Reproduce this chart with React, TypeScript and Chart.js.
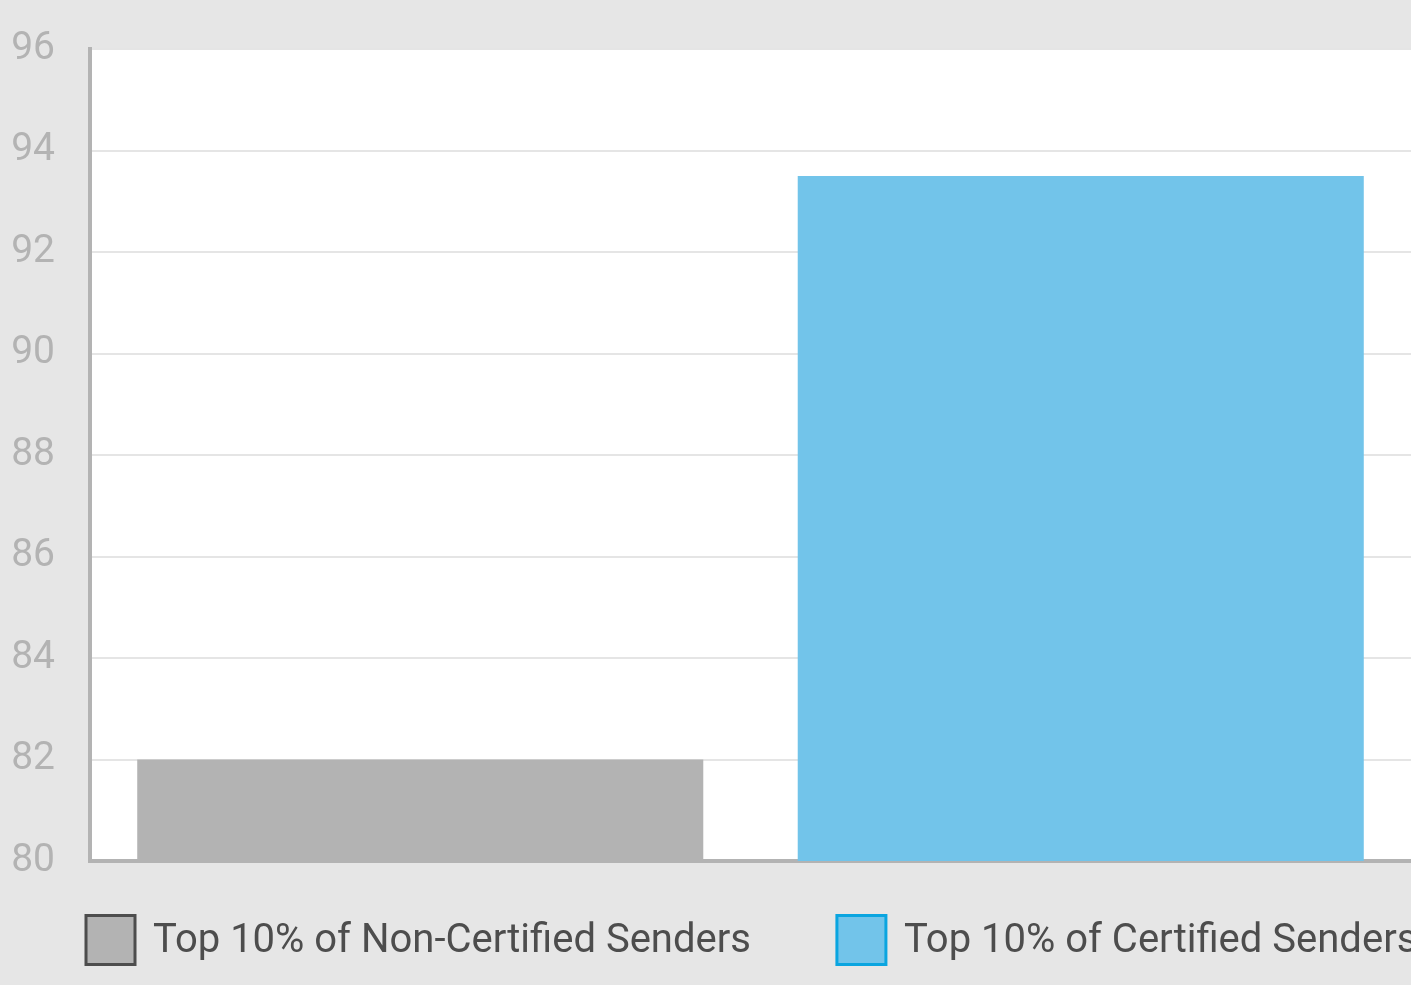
import React, { useEffect, useRef } from "react";
import { Chart, registerables } from "chart.js";

Chart.register(...registerables);

const categories = ["Top 10% of Non-Certified Senders", "Top 10% of Certified Senders"];
const values = [82, 93.5];
const barColors = ["#b3b3b3", "#72c4ea"];
const legendBorderColors = ["#4d4d4d", "#0aa5e0"];
const yMin = 80;
const yMax = 96;
const yStep = 2;

const bgPlugin = {
  id: "bgPlugin",
  beforeDraw(chart: any) {
    const { ctx, chartArea } = chart;
    ctx.save();
    ctx.fillStyle = "#e6e6e6";
    ctx.fillRect(0, 0, chart.width, chart.height);
    ctx.fillStyle = "#ffffff";
    ctx.fillRect(chartArea.left, chartArea.top, chartArea.right - chartArea.left, chartArea.bottom - chartArea.top);
    ctx.restore();
  },
};

const legendPlugin = {
  id: "customLegend",
  afterDraw(chart: any) {
    const { ctx } = chart;
    const labels: string[] = chart.data.labels;
    const ds = chart.data.datasets[0];
    const box = 49;
    const gapText = 18;
    const itemGap = 86;
    const cy = 940;
    let x = 86;
    ctx.save();
    ctx.font = "40px Roboto";
    ctx.textBaseline = "middle";
    ctx.textAlign = "left";
    labels.forEach((lab, i) => {
      ctx.fillStyle = ds.backgroundColor[i];
      ctx.fillRect(x, cy - box / 2, box, box);
      ctx.lineWidth = 3;
      ctx.strokeStyle = legendBorderColors[i];
      ctx.strokeRect(x, cy - box / 2, box, box);
      const tx = x + box + gapText;
      ctx.fillStyle = "#4d4d4d";
      ctx.fillText(lab, tx, cy + 2);
      x = tx + ctx.measureText(lab).width + itemGap;
    });
    ctx.restore();
  },
};

export default function App() {
  const ref = useRef<HTMLCanvasElement | null>(null);
  useEffect(() => {
    document.body.style.margin = "0";
    document.body.style.overflow = "hidden";
    if (!ref.current) return;
    const chart = new Chart(ref.current, {
      type: "bar",
      data: {
        labels: categories,
        datasets: [
          {
            data: values,
            backgroundColor: barColors,
            borderWidth: 0,
            barPercentage: 1,
            categoryPercentage: 0.857,
          },
        ],
      },
      options: {
        responsive: false,
        animation: false,
        layout: { padding: { top: 49, bottom: 124, left: 0, right: 0 } },
        plugins: { legend: { display: false }, tooltip: { enabled: false } },
        scales: {
          x: {
            ticks: { display: false },
            grid: { display: false, drawTicks: false },
            border: { color: "#b3b3b3", width: 4 },
            afterFit: (s: any) => {
              s.height = 0;
              s.paddingLeft = 0;
              s.paddingRight = 0;
            },
          },
          y: {
            min: yMin,
            max: yMax,
            ticks: {
              stepSize: yStep,
              color: "#b3b3b3",
              font: { family: "Roboto", size: 39 },
              padding: 35,
            },
            grid: { color: "#e5e5e5", lineWidth: 2, drawTicks: false },
            border: { color: "#b3b3b3", width: 4 },
            afterFit: (s: any) => {
              s.width = 90;
              s.paddingTop = 0;
              s.paddingBottom = 0;
            },
          },
        },
      },
      plugins: [bgPlugin, legendPlugin],
    });
    return () => chart.destroy();
  }, []);
  return (
    <div style={{ width: 1411, height: 985 }}>
      <canvas ref={ref} width={1411} height={985} style={{ display: "block" }} />
    </div>
  );
}
